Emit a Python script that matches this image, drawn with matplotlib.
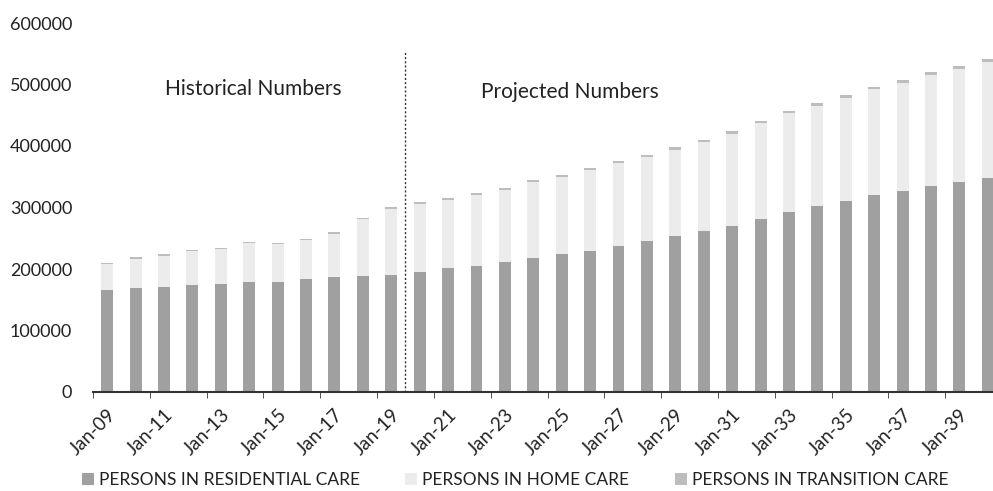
import matplotlib.pyplot as plt
import numpy as np

years = list(range(2009, 2041))
labels = ['Jan-%02d' % (y % 100) for y in years]

residential = [165800, 168600, 170200, 173400, 175000, 178900, 178900, 183200,
               187000, 188600, 189700, 195600, 201100, 205400, 211900, 218400,
               224400, 229800, 237400, 245500, 254100, 261800, 269900, 281800,
               293200, 302400, 310600, 320300, 327300, 334900, 342000, 348500]
totals = [210000, 219000, 224000, 231000, 234600, 244000, 242800, 249300,
          259600, 283400, 300300, 308400, 316000, 324100, 332200, 344700,
          352800, 364700, 375600, 385400, 397800, 409800, 423800, 441200,
          456900, 469400, 482900, 496400, 507300, 519800, 530600, 540900]
transition = [2500, 2500, 2500, 2500, 2500, 2500, 2500, 2500,
              2500, 2500, 2500, 3000, 3000, 3000, 3000, 3000,
              3200, 3200, 3400, 3400, 3600, 3600, 3800, 3800,
              4000, 4000, 4200, 4200, 4400, 4400, 4600, 4600]
home = [t - r - c for t, r, c in zip(totals, residential, transition)]


def main():
    plt.rcParams['font.family'] = ['Lato', 'DejaVu Sans']
    fig = plt.figure(figsize=(9.93, 4.91), dpi=100)
    ax = fig.add_axes([93 / 993, 99 / 491, 909 / 993, 369 / 491])

    x = np.arange(len(years))
    w = 0.42
    res = np.array(residential)
    hom = np.array(home)
    ax.bar(x, res, w, color='#a0a0a0', label='PERSONS IN RESIDENTIAL CARE')
    ax.bar(x, hom, w, bottom=res, color='#ececec', label='PERSONS IN HOME CARE')
    ax.bar(x, transition, w, bottom=res + hom, color='#bdbdbd',
           label='PERSONS IN TRANSITION CARE')

    ax.set_xlim(-0.5, len(years) - 0.5)
    ax.set_ylim(0, 600000)
    ax.set_yticks(range(0, 600001, 100000))
    ax.tick_params(axis='y', length=0, labelsize=13, colors='#222222', pad=15)

    ax.set_xticks(x[::2])
    ax.set_xticklabels(labels[::2], rotation=45, ha='right',
                       rotation_mode='anchor', fontsize=13.5, color='#222222')
    ax.set_xticks(np.arange(-0.5, len(years), 2), minor=True)
    ax.tick_params(axis='x', which='major', length=0, pad=10)
    ax.tick_params(axis='x', which='minor', length=4, color='#333333')

    for s in ['top', 'right', 'left']:
        ax.spines[s].set_visible(False)
    ax.spines['bottom'].set_color('#333333')
    ax.spines['bottom'].set_linewidth(1.5)

    ax.plot([10.5, 10.5], [0, 553000], color='#333333', linestyle=(0, (1.5, 1.5)),
            linewidth=1.0)
    ax.text(5.15, 492000, 'Historical Numbers', ha='center', va='center',
            fontsize=15, color='#222222')
    ax.text(16.3, 488000, 'Projected Numbers', ha='center', va='center',
            fontsize=15, color='#222222')

    fig.legend(loc='center', bbox_to_anchor=(515 / 993, 11 / 491), ncol=3,
               frameon=False, fontsize=12.5, handlelength=0.7, handleheight=0.7,
               columnspacing=2.6, handletextpad=0.3, labelcolor='#222222',
               borderpad=0)

    fig.savefig('out.png', dpi=100)


if __name__ == '__main__':
    main()
